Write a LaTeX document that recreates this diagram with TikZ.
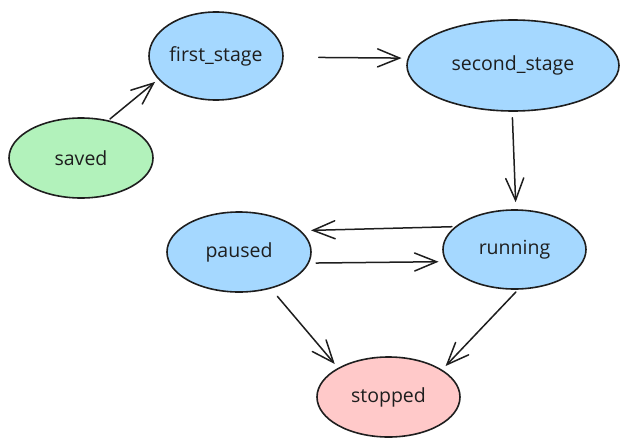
\documentclass[tikz,border=0pt]{standalone}
\usepackage{fontspec}
\setmainfont{Open Sans}
\usetikzlibrary{arrows.meta, shapes.geometric}
\definecolor{ink}{HTML}{1E1E1E}
\definecolor{greenfill}{HTML}{B2F2BB}
\definecolor{bluefill}{HTML}{A5D8FF}
\definecolor{redfill}{HTML}{FFC9C9}
\tikzset{state/.style={ellipse, draw=ink, line width=1.6pt, inner sep=0pt, text=ink, font=\fontsize{19.5}{22}\selectfont}}
\tikzset{trans/.style={draw=ink, line width=1.5pt, line cap=round, -{Straight Barb[length=22pt, width=18pt, line cap=round]}}}

\begin{document}
\begin{tikzpicture}[x=1pt, y=-1pt]
            \useasboundingbox (0,0) rectangle (629,447);
            \node[state, fill=greenfill, minimum width=144pt, minimum height=80pt] (saved) at (81,158) {saved};
            \node[state, fill=bluefill, minimum width=134pt, minimum height=88pt] (first) at (216,56) {first\_stage};
            \node[state, fill=bluefill, minimum width=212pt, minimum height=91pt] (second) at (513,65.5) {second\_stage};
            \node[state, fill=bluefill, minimum width=144pt, minimum height=80pt] (paused) at (239,252) {paused};
            \node[state, fill=bluefill, minimum width=143pt, minimum height=79pt] (running) at (514.5,249.5) {running};
            \node[state, fill=redfill, minimum width=143pt, minimum height=80pt] (stopped) at (388.5,397) {stopped};
            \draw[trans, shorten <=2pt, shorten >=4pt] (saved.54) -- (first.202);
            \draw[trans, shorten <=35pt, shorten >=6pt] (first.-1) -- (second.176);
            \draw[trans, shorten <=6pt, shorten >=7pt] (second.269) -- (running.88);
            \draw[trans, shorten <=3pt, shorten >=10pt] (running.159) -- (paused.19);
            \draw[trans, shorten <=7pt, shorten >=7pt] (paused.-9) -- (running.190);
            \draw[trans, shorten <=10pt, shorten >=5pt] (paused.-49) -- (stopped.150);
            \draw[trans, shorten <=3pt, shorten >=5pt] (running.275) -- (stopped.27);
        \end{tikzpicture}
\end{document}
